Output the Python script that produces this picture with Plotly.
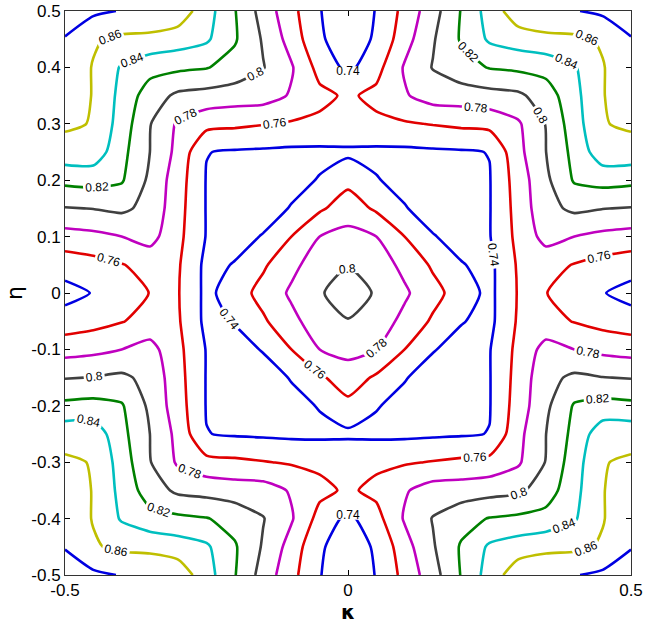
import numpy as np
import plotly.graph_objects as go

# Quadrant of the surface (the chart is mirror-symmetric in kappa and eta)
kappa_half = [-0.5, -0.45, -0.4, -0.35, -0.3, -0.25, -0.2, -0.15, -0.1, -0.05, 0.0]
eta_half = [0.0, 0.05, 0.1, 0.15, 0.2, 0.25, 0.3, 0.35, 0.4, 0.45, 0.5]

row_eta_000 = [0.733, 0.741, 0.749, 0.7605, 0.761, 0.735, 0.750, 0.767, 0.783, 0.798, 0.810]
row_eta_005 = [0.749, 0.753, 0.759, 0.767, 0.762, 0.735, 0.741, 0.757, 0.775, 0.790, 0.799]
row_eta_010 = [0.772, 0.775, 0.780, 0.787, 0.765, 0.739, 0.734, 0.741, 0.760, 0.780, 0.786]
row_eta_015 = [0.799, 0.8005, 0.804, 0.794, 0.767, 0.739, 0.733, 0.733, 0.741, 0.757, 0.770]
row_eta_020 = [0.825, 0.827, 0.822, 0.796, 0.769, 0.739, 0.735, 0.734, 0.735, 0.741, 0.755]
row_eta_025 = [0.8525, 0.852, 0.826, 0.800, 0.774, 0.7405, 0.738, 0.737, 0.736, 0.736, 0.736]
row_eta_030 = [0.863, 0.859, 0.831, 0.801, 0.777, 0.766, 0.764, 0.761, 0.758, 0.756, 0.758]
row_eta_035 = [0.866, 0.8595, 0.834, 0.810, 0.796, 0.793, 0.790, 0.789, 0.778, 0.765, 0.757]
row_eta_040 = [0.872, 0.859, 0.838, 0.827, 0.824, 0.821, 0.813, 0.801, 0.782, 0.753, 0.735]
row_eta_045 = [0.879, 0.862, 0.856, 0.855, 0.850, 0.843, 0.822, 0.798, 0.772, 0.742, 0.732]
row_eta_050 = [0.889, 0.884, 0.879, 0.876, 0.872, 0.8486, 0.821, 0.792, 0.766, 0.741, 0.725]

level_start = 0.74
level_end = 0.88
level_step = 0.02
level_colors = [
    "rgb(0,0,225)",      # 0.74
    "rgb(225,0,0)",      # 0.76
    "rgb(191,0,191)",    # 0.78
    "rgb(64,64,64)",     # 0.80
    "rgb(0,128,0)",      # 0.82
    "rgb(0,191,191)",    # 0.84
    "rgb(191,191,0)",    # 0.86
    "rgb(0,0,225)",      # 0.88
]

x_tickvals = [-0.5, 0, 0.5]
x_ticktext = ["-0.5", "0", "0.5"]
y_tickvals = [0.5, 0.4, 0.3, 0.2, 0.1, 0, -0.1, -0.2, -0.3, -0.4, -0.5]
y_ticktext = ["0.5", "0.4", "0.3", "0.2", "0.1", "0", "-0.1", "-0.2", "-0.3", "-0.4", "-0.5"]

# ---- assemble full grid by mirroring the quadrant ----
Q = np.array([row_eta_000, row_eta_005, row_eta_010, row_eta_015, row_eta_020, row_eta_025,
              row_eta_030, row_eta_035, row_eta_040, row_eta_045, row_eta_050])
kh = np.array(kappa_half)
eh = np.array(eta_half)
top = np.hstack([Q, Q[:, -2::-1]])
Z = np.vstack([top[:0:-1], top])
kappa = np.concatenate([kh, -kh[-2::-1]])
eta = np.concatenate([-eh[:0:-1], eh])

n = len(level_colors)
cs = []
for i, c in enumerate(level_colors):
    lo = max(0.0, (2 * i - 1) / (2 * (n - 1)))
    hi = min(1.0, (2 * i + 1) / (2 * (n - 1)))
    cs.append([lo, c])
    cs.append([hi, c])

fig = go.Figure(go.Contour(
    x=kappa, y=eta, z=Z,
    autocontour=False,
    contours=dict(start=level_start, end=level_end, size=level_step,
                  coloring="lines", showlabels=True,
                  labelfont=dict(size=12, color="black", family="Liberation Sans"),
                  labelformat=".2~g"),
    line=dict(width=2.6, smoothing=0.6),
    colorscale=cs, showscale=False, hoverinfo="skip",
))

axis_common = dict(ticks="inside", ticklen=5, tickcolor="black", mirror="allticks",
                   showline=True, linecolor="#333333", linewidth=1, showgrid=False,
                   zeroline=False, automargin=False,
                   tickfont=dict(size=17, family="Liberation Sans", color="black"))

fig.update_layout(
    width=646, height=627,
    margin=dict(l=65, r=15, t=11, b=52),
    paper_bgcolor="white", plot_bgcolor="white",
    showlegend=False,
    xaxis=dict(range=[-0.5, 0.5], tickvals=x_tickvals, ticktext=x_ticktext, **axis_common),
    yaxis=dict(range=[-0.5, 0.5], tickvals=y_tickvals, ticktext=y_ticktext, **axis_common),
    annotations=[
        dict(text="<b>κ</b>", xref="paper", yref="paper", x=0.5, y=-0.066,
             xanchor="center", yanchor="middle", showarrow=False,
             font=dict(size=20, family="DejaVu Sans", color="black")),
        dict(text="η", xref="paper", yref="paper", x=-0.09, y=0.5, textangle=-90,
             xanchor="center", yanchor="middle", showarrow=False,
             font=dict(size=22, family="DejaVu Sans", color="black")),
    ],
)

fig.write_html("out.html",
               config={"displayModeBar": False},
               post_script="document.body.style.margin='0';document.body.style.padding='0';")
